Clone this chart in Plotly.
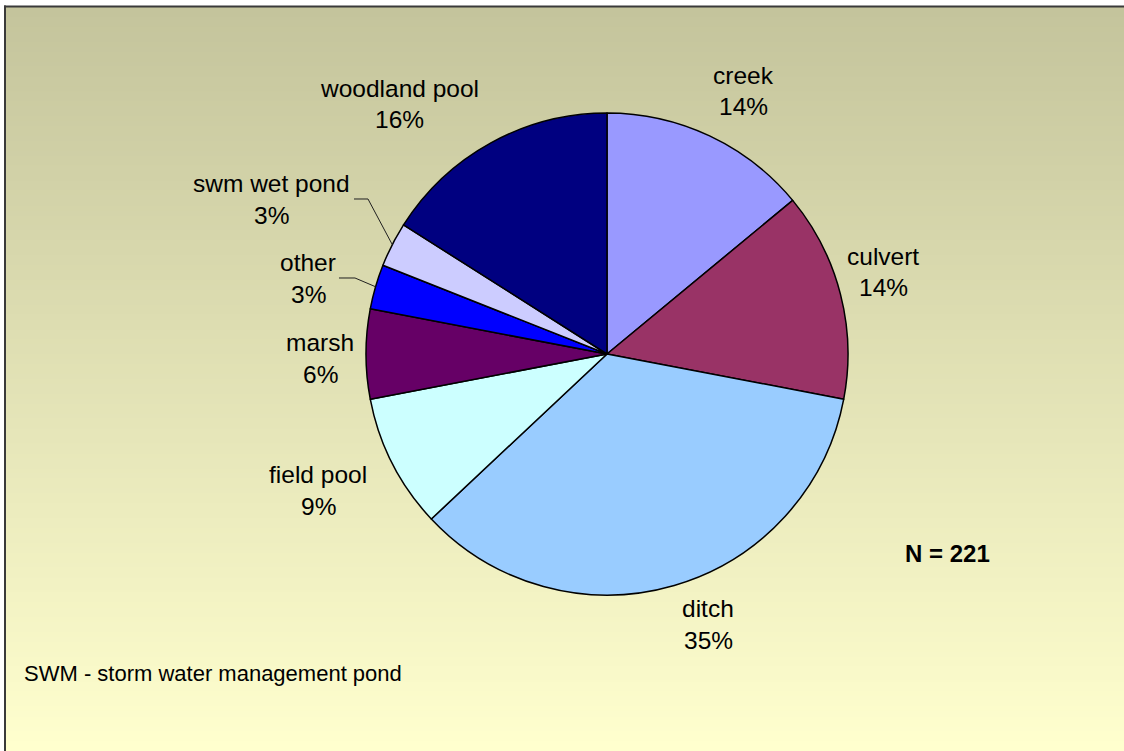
import math
import plotly.graph_objects as go

# ---- data ----
categories = ["creek", "culvert", "ditch", "field pool", "marsh", "other",
              "swm wet pond", "woodland pool"]
percent = [14, 14, 35, 9, 6, 3, 3, 16]
sample_size = 221
footnote = "SWM - storm water management pond"

# ---- styling ----
slice_colors = ["#9999FF", "#993366", "#99CCFF", "#CCFFFF", "#660066",
                "#0000FF", "#CCCCFF", "#000080"]
FONT = "Liberation Sans, Arial, sans-serif"
W, H = 1124, 751
CX, CY, R = 607, 354, 241          # pie centre / radius in pixels
LABEL_SIZE = 24.5
LINE_GAP = 32

# centre of each two-line label block (pixels)
label_blocks = {
    "creek": (743, 91),
    "culvert": (883, 272),
    "ditch": (708, 624),
    "field pool": (318, 490),
    "marsh": (320, 358),
    "other": (308, 278),
    "swm wet pond": (271, 199),
    "woodland pool": (399, 104),
}
# leader lines: (start x, y, elbow x) -> ends on the slice edge
leaders = {
    "other": (339, 278, 355),
    "swm wet pond": (354, 199, 368),
}


def px(x):
    return x / W


def py(y):
    return 1 - y / H


fig = go.Figure(go.Pie(
    labels=categories,
    values=percent,
    sort=False,
    direction="clockwise",
    rotation=0,
    marker=dict(colors=slice_colors, line=dict(color="black", width=1.5)),
    textinfo="none",
    hoverinfo="label+percent",
    showlegend=False,
    domain=dict(x=[px(CX - R), px(CX + R)], y=[py(CY + R), py(CY - R)]),
))

shapes = []

# vertical background gradient (olive at the top to pale yellow at the bottom)
top_rgb = (196, 196, 156)
bot_rgb = (255, 255, 206)
y_start, y_end = 7, H
n_strips = 150
step = (y_end - y_start) / n_strips
for i in range(n_strips):
    t = i / (n_strips - 1)
    c = tuple(round(a + (b - a) * t) for a, b in zip(top_rgb, bot_rgb))
    y0 = y_start + i * step
    y1 = min(y0 + step + 1, H)
    shapes.append(dict(
        type="rect", xref="paper", yref="paper", layer="below",
        x0=px(5), x1=1, y0=py(y0), y1=py(y1),
        fillcolor="rgb(%d,%d,%d)" % c, line=dict(width=0),
    ))

# chart-area frame (left and top edges; the rest lies outside the page)
frame = dict(color="#3a3a3a", width=2)
shapes.append(dict(type="line", xref="paper", yref="paper", layer="above",
                   x0=px(5), x1=px(5), y0=py(5.5), y1=0, line=frame))
shapes.append(dict(type="line", xref="paper", yref="paper", layer="above",
                   x0=px(4), x1=1, y0=py(6.5), y1=py(6.5), line=frame))

# slice mid-angles (clockwise from 12 o'clock) for leader lines
total = sum(percent)
mid_angle = {}
acc = 0
for name, v in zip(categories, percent):
    mid_angle[name] = (acc + v / 2) / total * 2 * math.pi
    acc += v

for name, (sx, sy, ex) in leaders.items():
    a = mid_angle[name]
    tx = CX + R * math.sin(a)
    ty = CY - R * math.cos(a)
    path = "M %f %f L %f %f L %f %f" % (px(sx), py(sy), px(ex), py(sy), px(tx), py(ty))
    shapes.append(dict(type="path", xref="paper", yref="paper", path=path,
                       line=dict(color="#202020", width=1)))

annotations = []
for name, v in zip(categories, percent):
    bx, by = label_blocks[name]
    for text, yy in ((name, by - LINE_GAP / 2), ("%d%%" % v, by + LINE_GAP / 2)):
        annotations.append(dict(
            x=px(bx), y=py(yy), xref="paper", yref="paper",
            xanchor="center", yanchor="middle", showarrow=False,
            text=text, font=dict(family=FONT, size=LABEL_SIZE, color="black"),
        ))

annotations.append(dict(
    x=px(947), y=py(553), xref="paper", yref="paper",
    xanchor="center", yanchor="middle", showarrow=False,
    text="<b>N = %d</b>" % sample_size,
    font=dict(family=FONT, size=24, color="black"),
))
annotations.append(dict(
    x=px(22), y=py(673), xref="paper", yref="paper",
    xanchor="left", yanchor="middle", showarrow=False,
    text=footnote,
    font=dict(family=FONT, size=22, color="black"),
))

fig.update_layout(
    width=W, height=H,
    margin=dict(l=0, r=0, t=0, b=0),
    paper_bgcolor="white",
    plot_bgcolor="white",
    shapes=shapes,
    annotations=annotations,
)

fig.write_html("out.html", config={"displayModeBar": False})
